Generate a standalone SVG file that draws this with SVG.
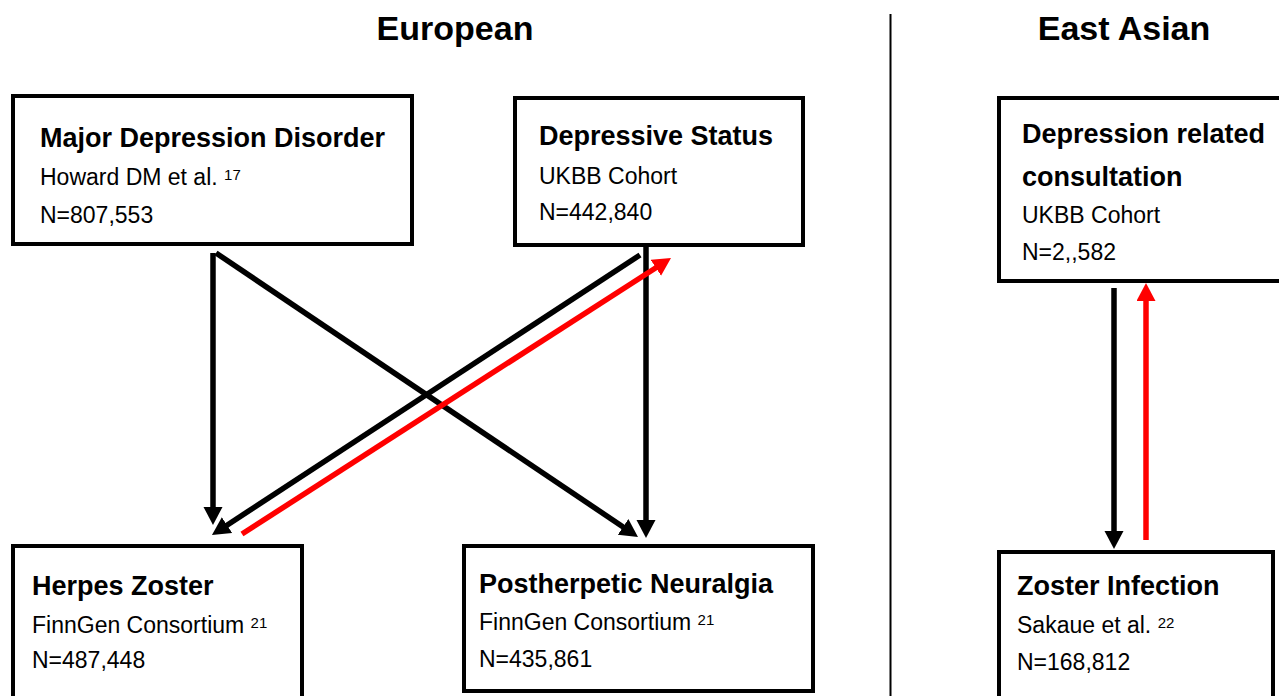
<svg xmlns="http://www.w3.org/2000/svg" width="1279" height="696" viewBox="0 0 1279 696">
<style>
.box{fill:#fff;stroke:#000;stroke-width:4}
.t{font-family:"Liberation Sans",Arial,sans-serif;font-weight:bold;font-size:27px;fill:#000}
.s{font-family:"Liberation Sans",Arial,sans-serif;font-size:23px;fill:#000}
.sup{font-family:"Liberation Sans",Arial,sans-serif;font-size:15px;fill:#000}
.h{font-family:"Liberation Sans",Arial,sans-serif;font-weight:bold;font-size:34px;fill:#000;text-anchor:middle}
.k{stroke:#000;stroke-width:5.5;fill:none}
.r{stroke:#f00;stroke-width:5.5;fill:none}
</style>
<defs>
<marker id="ak" markerUnits="userSpaceOnUse" markerWidth="20" markerHeight="20" refX="1" refY="9.5" orient="auto"><path d="M0,0 L18,9.5 L0,19 z" fill="#000"/></marker>
<marker id="ar" markerUnits="userSpaceOnUse" markerWidth="20" markerHeight="20" refX="1" refY="9.5" orient="auto"><path d="M0,0 L18,9.5 L0,19 z" fill="#f00"/></marker>
</defs>
<rect width="1279" height="696" fill="#fff"/>
<text class="h" x="455" y="40">European</text>
<text class="h" x="1124" y="40">East Asian</text>
<line x1="890.5" y1="14" x2="890.5" y2="696" stroke="#000" stroke-width="2"/>
<g id="mdd">
<rect class="box" x="13" y="96" width="399" height="148"/>
<text class="t" x="40" y="147">Major Depression Disorder</text>
<text class="s" x="40" y="185">Howard DM et al. <tspan class="sup" dy="-5">17</tspan></text>
<text class="s" x="40" y="223">N=807,553</text>
</g>
<g id="ds">
<rect class="box" x="515" y="98" width="288" height="147"/>
<text class="t" x="539" y="145">Depressive Status</text>
<text class="s" x="539" y="184">UKBB Cohort</text>
<text class="s" x="539" y="220">N=442,840</text>
</g>
<g id="drc">
<rect class="box" x="999" y="98" width="290" height="183"/>
<text class="t" x="1022" y="143">Depression related</text>
<text class="t" x="1022" y="186">consultation</text>
<text class="s" x="1022" y="223">UKBB Cohort</text>
<text class="s" x="1022" y="260">N=2,,582</text>
</g>
<g id="hz">
<rect class="box" x="13" y="546" width="289" height="160"/>
<text class="t" x="32" y="595">Herpes Zoster</text>
<text class="s" x="32" y="633">FinnGen Consortium <tspan class="sup" dy="-5">21</tspan></text>
<text class="s" x="32" y="668">N=487,448</text>
</g>
<g id="phn">
<rect class="box" x="464" y="546" width="349" height="145"/>
<text class="t" x="479" y="593">Postherpetic Neuralgia</text>
<text class="s" x="479" y="630">FinnGen Consortium <tspan class="sup" dy="-5">21</tspan></text>
<text class="s" x="479" y="667">N=435,861</text>
</g>
<g id="zi">
<rect class="box" x="999" y="552" width="274" height="160"/>
<text class="t" x="1017" y="595">Zoster Infection</text>
<text class="s" x="1017" y="633">Sakaue et al. <tspan class="sup" dy="-5">22</tspan></text>
<text class="s" x="1017" y="670">N=168,812</text>
</g>
<g id="connectors">
<line class="k" x1="213" y1="253" x2="213" y2="508" marker-end="url(#ak)"/>
<line class="k" x1="216" y1="253" x2="623.9" y2="527.5" marker-end="url(#ak)"/>
<line class="k" x1="646" y1="246" x2="646" y2="521" marker-end="url(#ak)"/>
<line class="k" x1="640" y1="255" x2="226.2" y2="525.7" marker-end="url(#ak)"/>
<line class="r" x1="242" y1="534" x2="656.7" y2="267.2" marker-end="url(#ar)"/>
<line class="k" x1="1114" y1="288" x2="1114" y2="532" marker-end="url(#ak)"/>
<line class="r" x1="1146" y1="540" x2="1146" y2="300" marker-end="url(#ar)"/>
</g>
</svg>
